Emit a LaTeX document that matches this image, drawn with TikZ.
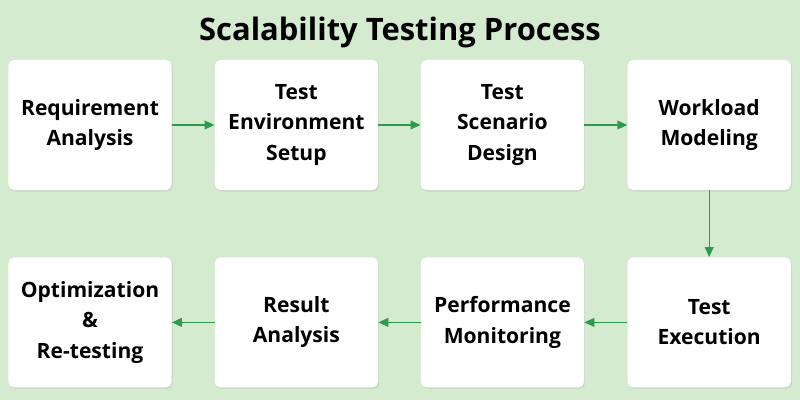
\documentclass[tikz,border=0pt]{standalone}
\usepackage{fontspec}
\setmainfont{Open Sans}
\usetikzlibrary{arrows.meta,positioning,shadows}
\definecolor{bggreen}{HTML}{D5EBD0}
\definecolor{arrowgreen}{HTML}{2E9A4E}
\tikzset{>={Triangle[length=2.5mm,width=2.2mm]}}

\begin{document}
\begin{tikzpicture}[font=\fontsize{15}{21.5}\selectfont\bfseries,
    stepbox/.style={draw=none, fill=white, rounded corners=4pt, minimum width=4.08cm, minimum height=3.25cm, align=center, drop shadow={shadow xshift=0.3mm, shadow yshift=-0.4mm, opacity=0.15}},
    flow/.style={->, arrowgreen, line width=1pt}]
  \fill[bggreen] (0,0) rectangle (20,10);
  \useasboundingbox (0,0) rectangle (20,10);
  \node[font=\fontsize{22}{26}\selectfont\bfseries] (title) at (10,9.2) {Scalability Testing Process};

  \node[stepbox] (requirement) at (2.25,6.875)  {Requirement\\Analysis};
  \node[stepbox] (environment) at (7.41,6.875)  {Test\\Environment\\Setup};
  \node[stepbox] (scenario)    at (12.56,6.875) {Test\\Scenario\\Design};
  \node[stepbox] (workload)    at (17.73,6.875) {Workload\\Modeling};

  \node[stepbox] (execution)    at (17.73,1.94) {Test\\Execution};
  \node[stepbox] (monitoring)   at (12.56,1.94) {Performance\\Monitoring};
  \node[stepbox] (result)       at (7.41,1.94)  {Result\\Analysis};
  \node[stepbox] (optimization) at (2.25,1.94)  {Optimization\\\&\\Re-testing};

  \draw[flow] (requirement) -- (environment);
  \draw[flow] (environment) -- (scenario);
  \draw[flow] (scenario) -- (workload);
  \draw[flow] (workload) -- (execution);
  \draw[flow] (execution) -- (monitoring);
  \draw[flow] (monitoring) -- (result);
  \draw[flow] (result) -- (optimization);
\end{tikzpicture}
\end{document}
